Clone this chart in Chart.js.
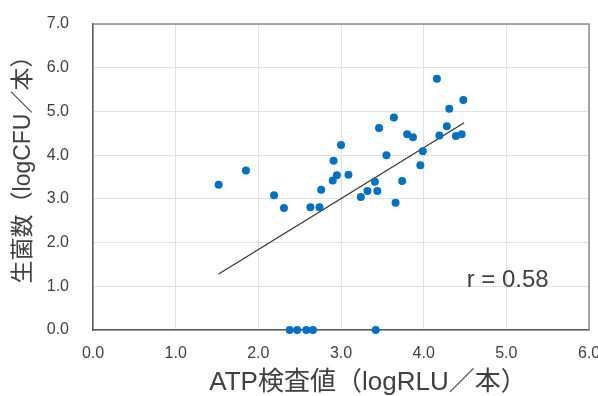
<!DOCTYPE html>
<html>
<head>
<meta charset="utf-8">
<script src="https://cdn.jsdelivr.net/npm/chart.js@4/dist/chart.umd.min.js"></script>
<style>
  html, body { margin: 0; padding: 0; background: #fff; }
  #wrap { width: 598px; height: 396px; }
</style>
</head>
<body>
<div id="wrap"><canvas id="chart" width="598" height="396"></canvas></div>
<script>
// ATP値と生菌数（どちらも対数）
const atpLog = [1.52, 1.85, 2.19, 2.31, 2.63, 2.74, 2.76, 2.90, 2.91, 2.95, 3.00, 3.09, 3.24, 3.32,
                3.41, 3.44, 3.46, 3.55, 3.64, 3.66, 3.74, 3.80, 3.87, 3.96, 3.99, 4.16, 4.19, 4.28,
                4.31, 4.39, 4.46, 4.48,
                2.38, 2.47, 2.58, 2.66, 3.42];
const cfuLog = [3.32, 3.65, 3.08, 2.79, 2.81, 2.81, 3.21, 3.42, 3.87, 3.54, 4.23, 3.55, 3.04, 3.18,
                3.39, 3.18, 4.62, 4.00, 4.86, 2.91, 3.41, 4.48, 4.41, 3.77, 4.09, 5.75, 4.45, 4.66,
                5.06, 4.44, 4.48, 5.26,
                0, 0, 0, 0, 0];

// 近似直線の両端
const trendX = [1.52, 4.49];
const trendY = [1.28, 4.74];

const rLabel = 'r = 0.58';
const xTitle = 'ATP検査値（logRLU／本）';
const yTitle = '生菌数（logCFU／本）';

const TEXT = '#404040';
const FONT = '"Liberation Sans", "Noto Sans CJK JP", sans-serif';

// 枠線・軸タイトル・相関係数
const extras = {
    id: 'extras',
    beforeDatasetsDraw(chart) {
        const { ctx, chartArea: a } = chart;
        ctx.save();
        ctx.strokeStyle = '#8c8c8c';
        ctx.lineWidth = 1.5;
        ctx.beginPath();
        ctx.moveTo(a.left, a.top);
        ctx.lineTo(a.right, a.top);
        ctx.lineTo(a.right, a.bottom);
        ctx.stroke();
        ctx.restore();
    },
    afterDraw(chart) {
        const { ctx, scales: { x, y } } = chart;
        ctx.save();
        ctx.fillStyle = TEXT;
        ctx.textBaseline = 'middle';

        ctx.font = '24px ' + FONT;
        ctx.textAlign = 'left';
        ctx.fillText(rLabel, x.getPixelForValue(4.52), y.getPixelForValue(1.14));

        ctx.font = '26px ' + FONT;
        ctx.textAlign = 'center';
        ctx.fillText(xTitle, 368, 383);

        ctx.font = '23px ' + FONT;
        ctx.translate(24, 164);
        ctx.rotate(-Math.PI / 2);
        ctx.fillText(yTitle, 0, 0);
        ctx.restore();
    }
};

new Chart(document.getElementById('chart'), {
    type: 'scatter',
    data: {
        datasets: [
            {
                type: 'line',
                data: trendX.map((v, i) => ({ x: v, y: trendY[i] })),
                borderColor: '#333333',
                borderWidth: 1.2,
                pointRadius: 0,
                fill: false,
                order: 2
            },
            {
                data: atpLog.map((v, i) => ({ x: v, y: cfuLog[i] })),
                backgroundColor: '#0070C0',
                borderWidth: 0,
                pointRadius: 4,
                clip: false,
                order: 1
            }
        ]
    },
    options: {
        responsive: false,
        animation: false,
        devicePixelRatio: 1,
        layout: { padding: { left: 0, top: 24, right: 9, bottom: 0 } },
        plugins: {
            legend: { display: false },
            tooltip: { enabled: false }
        },
        scales: {
            x: {
                type: 'linear',
                min: 0, max: 6,
                afterFit: s => { s.height = 66; s.paddingLeft = 0; s.paddingRight = 0; },
                grid: { color: '#e0e0e0', lineWidth: 1, drawTicks: false },
                border: { color: '#595959', width: 1.5 },
                ticks: {
                    stepSize: 1,
                    padding: 14,
                    color: TEXT,
                    font: { family: FONT, size: 16 },
                    callback: v => v.toFixed(1)
                }
            },
            y: {
                type: 'linear',
                min: 0, max: 7,
                afterFit: s => { s.width = 93; s.paddingTop = 0; s.paddingBottom = 0; },
                grid: { color: '#e0e0e0', lineWidth: 1, drawTicks: false },
                border: { color: '#595959', width: 1.5 },
                ticks: {
                    stepSize: 1,
                    padding: 24,
                    color: TEXT,
                    font: { family: FONT, size: 16 },
                    callback: v => v.toFixed(1)
                }
            }
        }
    },
    plugins: [extras]
});
</script>
</body>
</html>
